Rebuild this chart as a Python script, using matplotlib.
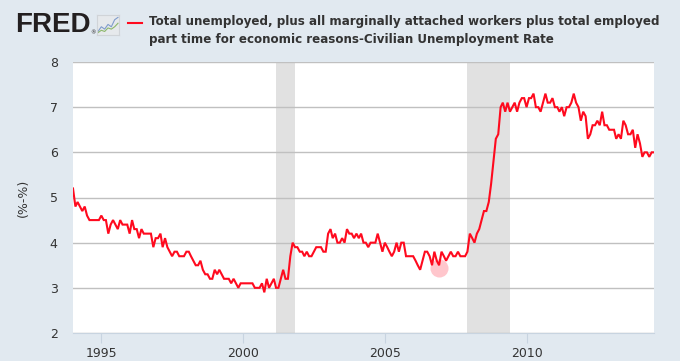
import numpy as np
import pandas as pd
import matplotlib
matplotlib.use("Agg")
import matplotlib.pyplot as plt
import matplotlib.dates as mdates

# U6 minus U3, monthly, Jan 1994 - Jul 2014
y1994 = [5.2, 4.8, 4.9, 4.8, 4.7, 4.8, 4.6, 4.5, 4.5, 4.5, 4.5, 4.5]
y1995 = [4.6, 4.5, 4.5, 4.2, 4.4, 4.5, 4.4, 4.3, 4.5, 4.4, 4.4, 4.4]
y1996 = [4.2, 4.5, 4.3, 4.3, 4.1, 4.3, 4.2, 4.2, 4.2, 4.2, 3.9, 4.1]
y1997 = [4.1, 4.2, 3.9, 4.1, 3.9, 3.8, 3.7, 3.8, 3.8, 3.7, 3.7, 3.7]
y1998 = [3.8, 3.8, 3.7, 3.6, 3.5, 3.5, 3.6, 3.4, 3.3, 3.3, 3.2, 3.2]
y1999 = [3.4, 3.3, 3.4, 3.3, 3.2, 3.2, 3.2, 3.1, 3.2, 3.1, 3.0, 3.1]
y2000 = [3.1, 3.1, 3.1, 3.1, 3.1, 3.0, 3.0, 3.0, 3.1, 2.9, 3.2, 3.0]
y2001 = [3.1, 3.2, 3.0, 3.0, 3.2, 3.4, 3.2, 3.2, 3.7, 4.0, 3.9, 3.9]
y2002 = [3.8, 3.8, 3.7, 3.8, 3.7, 3.7, 3.8, 3.9, 3.9, 3.9, 3.8, 3.8]
y2003 = [4.2, 4.3, 4.1, 4.2, 4.0, 4.0, 4.1, 4.0, 4.3, 4.2, 4.2, 4.1]
y2004 = [4.2, 4.1, 4.2, 4.0, 4.0, 3.9, 4.0, 4.0, 4.0, 4.2, 4.0, 3.8]
y2005 = [4.0, 3.9, 3.8, 3.7, 3.8, 4.0, 3.8, 4.0, 4.0, 3.7, 3.7, 3.7]
y2006 = [3.7, 3.6, 3.5, 3.4, 3.6, 3.8, 3.8, 3.7, 3.5, 3.8, 3.6, 3.5]
y2007 = [3.8, 3.7, 3.6, 3.7, 3.8, 3.7, 3.7, 3.8, 3.7, 3.7, 3.7, 3.8]
y2008 = [4.2, 4.1, 4.0, 4.2, 4.3, 4.5, 4.7, 4.7, 4.9, 5.3, 5.8, 6.3]
y2009 = [6.4, 7.0, 7.1, 6.9, 7.1, 6.9, 7.0, 7.1, 6.9, 7.1, 7.2, 7.2]
y2010 = [7.0, 7.2, 7.2, 7.3, 7.0, 7.0, 6.9, 7.1, 7.3, 7.1, 7.1, 7.2]
y2011 = [7.0, 7.0, 6.9, 7.0, 6.8, 7.0, 7.0, 7.1, 7.3, 7.1, 7.0, 6.7]
y2012 = [6.9, 6.8, 6.3, 6.4, 6.6, 6.6, 6.7, 6.6, 6.9, 6.6, 6.6, 6.5]
y2013 = [6.5, 6.5, 6.3, 6.4, 6.3, 6.7, 6.6, 6.4, 6.4, 6.5, 6.1, 6.4]
y2014 = [6.2, 5.9, 6.0, 6.0, 5.9, 6.0, 6.0]

values = (y1994 + y1995 + y1996 + y1997 + y1998 + y1999 + y2000 + y2001
          + y2002 + y2003 + y2004 + y2005 + y2006 + y2007 + y2008 + y2009
          + y2010 + y2011 + y2012 + y2013 + y2014)
dates = pd.date_range("1994-01-01", periods=len(values), freq="MS")

recessions = [("2001-03-01", "2001-11-01"), ("2007-12-01", "2009-06-01")]
highlight_date = "2006-12-01"
highlight_value = 3.45

title = ("Total unemployed, plus all marginally attached workers plus total employed\n"
         "part time for economic reasons-Civilian Unemployment Rate")

bg = "#e1e9f0"
fig = plt.figure(figsize=(6.8, 3.61), dpi=100, facecolor=bg)
ax = fig.add_axes([73 / 680, 28 / 361, 581 / 680, 271 / 361])
ax.set_facecolor("white")

for start, end in recessions:
    ax.axvspan(pd.Timestamp(start), pd.Timestamp(end), color="#e1e1e1", lw=0, zorder=1)

ax.plot(dates, values, color="#ff0a1e", lw=1.5, zorder=4, solid_joinstyle="miter")
ax.plot([pd.Timestamp(highlight_date)], [highlight_value], "o", ms=13,
        color="#ffb8c0", alpha=0.8, mec="none", zorder=3)

ax.set_ylim(2, 8)
ax.set_xlim(dates[0], dates[-1])
ax.set_yticks(range(2, 9))
ax.grid(axis="y", color="#c0c0c0", lw=1, zorder=2)
ax.set_axisbelow(False)
for s in ["top", "left", "right"]:
    ax.spines[s].set_visible(False)
ax.spines["bottom"].set_color("#c8d4e0")
ax.xaxis.set_major_locator(mdates.YearLocator(5))
ax.xaxis.set_major_formatter(mdates.DateFormatter("%Y"))
ax.tick_params(axis="x", length=7, color="#c8d4e0", labelsize=9,
               labelcolor="#333333", pad=3)
ax.tick_params(axis="y", length=0, labelsize=9, labelcolor="#333333", pad=11)
ax.set_ylabel("(%-%)", fontsize=9, color="#333333", labelpad=14)

# header: FRED logo and legend entry
fig.text(15 / 680, 1 - 25 / 361, "FRED", fontsize=20, fontweight="bold",
         family="Liberation Sans", color="#231f20", va="center", ha="left")
fig.text(90 / 680, 1 - 33 / 361, "\u00ae", fontsize=4, color="#231f20",
         va="center", ha="left")
icon = fig.add_axes([97 / 680, 1 - 35 / 361, 22 / 680, 20 / 361])
icon.set_facecolor("#e6e9ec")
icon.plot([0, 1, 2, 3, 4, 5, 6], [1, 3, 2, 4, 3, 6, 7], color="#7f9ccc", lw=0.8)
icon.plot([0, 1, 2, 3, 4, 5, 6], [0.5, 1.5, 1, 2.5, 2, 3, 4.5], color="#8db86c", lw=0.8)
icon.set_xlim(-0.3, 6.3)
icon.set_ylim(-0.5, 8)
icon.set_xticks([])
icon.set_yticks([])
for s in icon.spines.values():
    s.set_color("#d0d4d8")

fig.add_artist(plt.Line2D([128 / 680, 142 / 680], [1 - 23 / 361, 1 - 23 / 361],
                          color="#ff0a1e", lw=1.5))
fig.text(149 / 680, 1 - 30.5 / 361, title, fontsize=8.6, fontweight="bold",
         color="#333333", va="center", ha="left", linespacing=1.4)

fig.savefig("out.png", dpi=100, facecolor=bg)
